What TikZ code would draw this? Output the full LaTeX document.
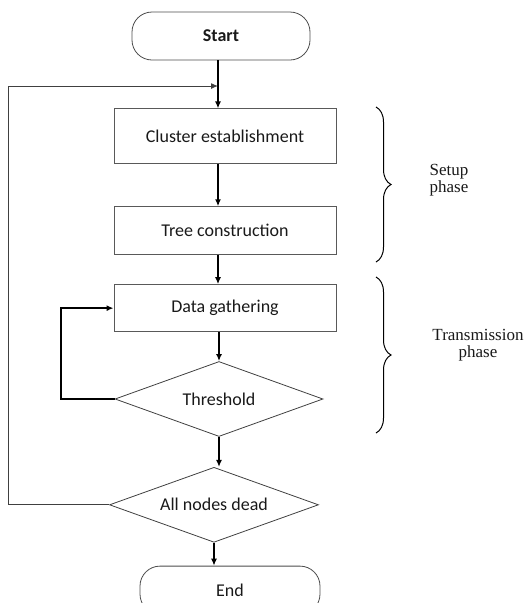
\documentclass[tikz,border=0pt]{standalone}
\usepackage{fontspec}
\setmainfont{Liberation Serif}
\setsansfont{Carlito}
\usepackage{tikz}
\usetikzlibrary{arrows.meta,positioning,calc,shapes.geometric,decorations.pathreplacing}

\begin{document}
\begin{tikzpicture}[x=1pt,y=-1pt,>={Latex[length=7pt,width=6pt]},
  every node/.style={font=\sffamily\fontsize{18}{21}\selectfont,text=black!90},
  terminal/.style={rectangle,rounded corners=20pt,draw=black!70,line width=0.8pt,minimum width=178pt,minimum height=48pt,inner sep=0pt},
  process/.style={rectangle,draw=black!65,line width=0.9pt,minimum width=222pt,inner sep=0pt},
  decision/.style={diamond,draw=black!75,line width=0.8pt,minimum width=208pt,minimum height=75pt,aspect=2.8,inner sep=0pt},
  flow/.style={->,line width=1.6pt},
  phase/.style={font=\rmfamily\fontsize{17}{17}\selectfont,align=center},
  phasebrace/.style={decorate,decoration={brace,amplitude=15pt},line width=1pt}]
  \useasboundingbox (0,0) rectangle (531,603);

  % main column
  \node[terminal] (start) at (221,36) {\bfseries Start};
  \node[process,minimum height=55pt,below=48pt of start,xshift=4pt] (clu) {Cluster establishment};
  \node[process,minimum height=48pt,below=42pt of clu] (tree) {Tree construction};
  \node[process,minimum height=47pt,below=29pt of tree] (data) {Data gathering};
  \node[decision,below=29pt of data,xshift=-6pt] (thr) {Threshold};
  \node[decision,minimum width=209pt,below=30pt of thr,xshift=-5pt] (dead) {All nodes dead};
  \node[terminal,minimum width=180pt,below=23pt of dead,xshift=16pt] (end) {End};

  \coordinate (axis) at (218,0);
  \coordinate (join) at (218,86);
  \coordinate (fb) at (8,0);
  \coordinate (lp) at (61,0);

  \draw[flow] (start.south -| axis) -- (axis |- clu.north);
  \draw[flow] (axis |- clu.south) -- (axis |- tree.north);
  \draw[flow] (axis |- tree.south) -- (axis |- data.north);
  \draw[flow] (thr.north |- data.south) -- (thr.north);
  \draw[flow] (thr.south) -- (thr.south |- dead.north);
  \draw[flow] (dead.south) -- (dead.south |- end.north);

  % loops back
  \draw[->,line width=1pt,black!75] (dead.west) -- (fb |- dead.west) -- (fb |- join) -- (join);
  \draw[->,line width=1.4pt] (thr.west) -- (lp |- thr.west) |- (data.west);

  % phases
  \draw[phasebrace] (376,107) -- (376,262);
  \draw[phasebrace] (376,277) -- (376,433);
  \node[phase] (setup) at (449,180) {Setup\\phase};
  \node[phase] (trans) at (478,345) {Transmission\\phase};
\end{tikzpicture}
\end{document}
